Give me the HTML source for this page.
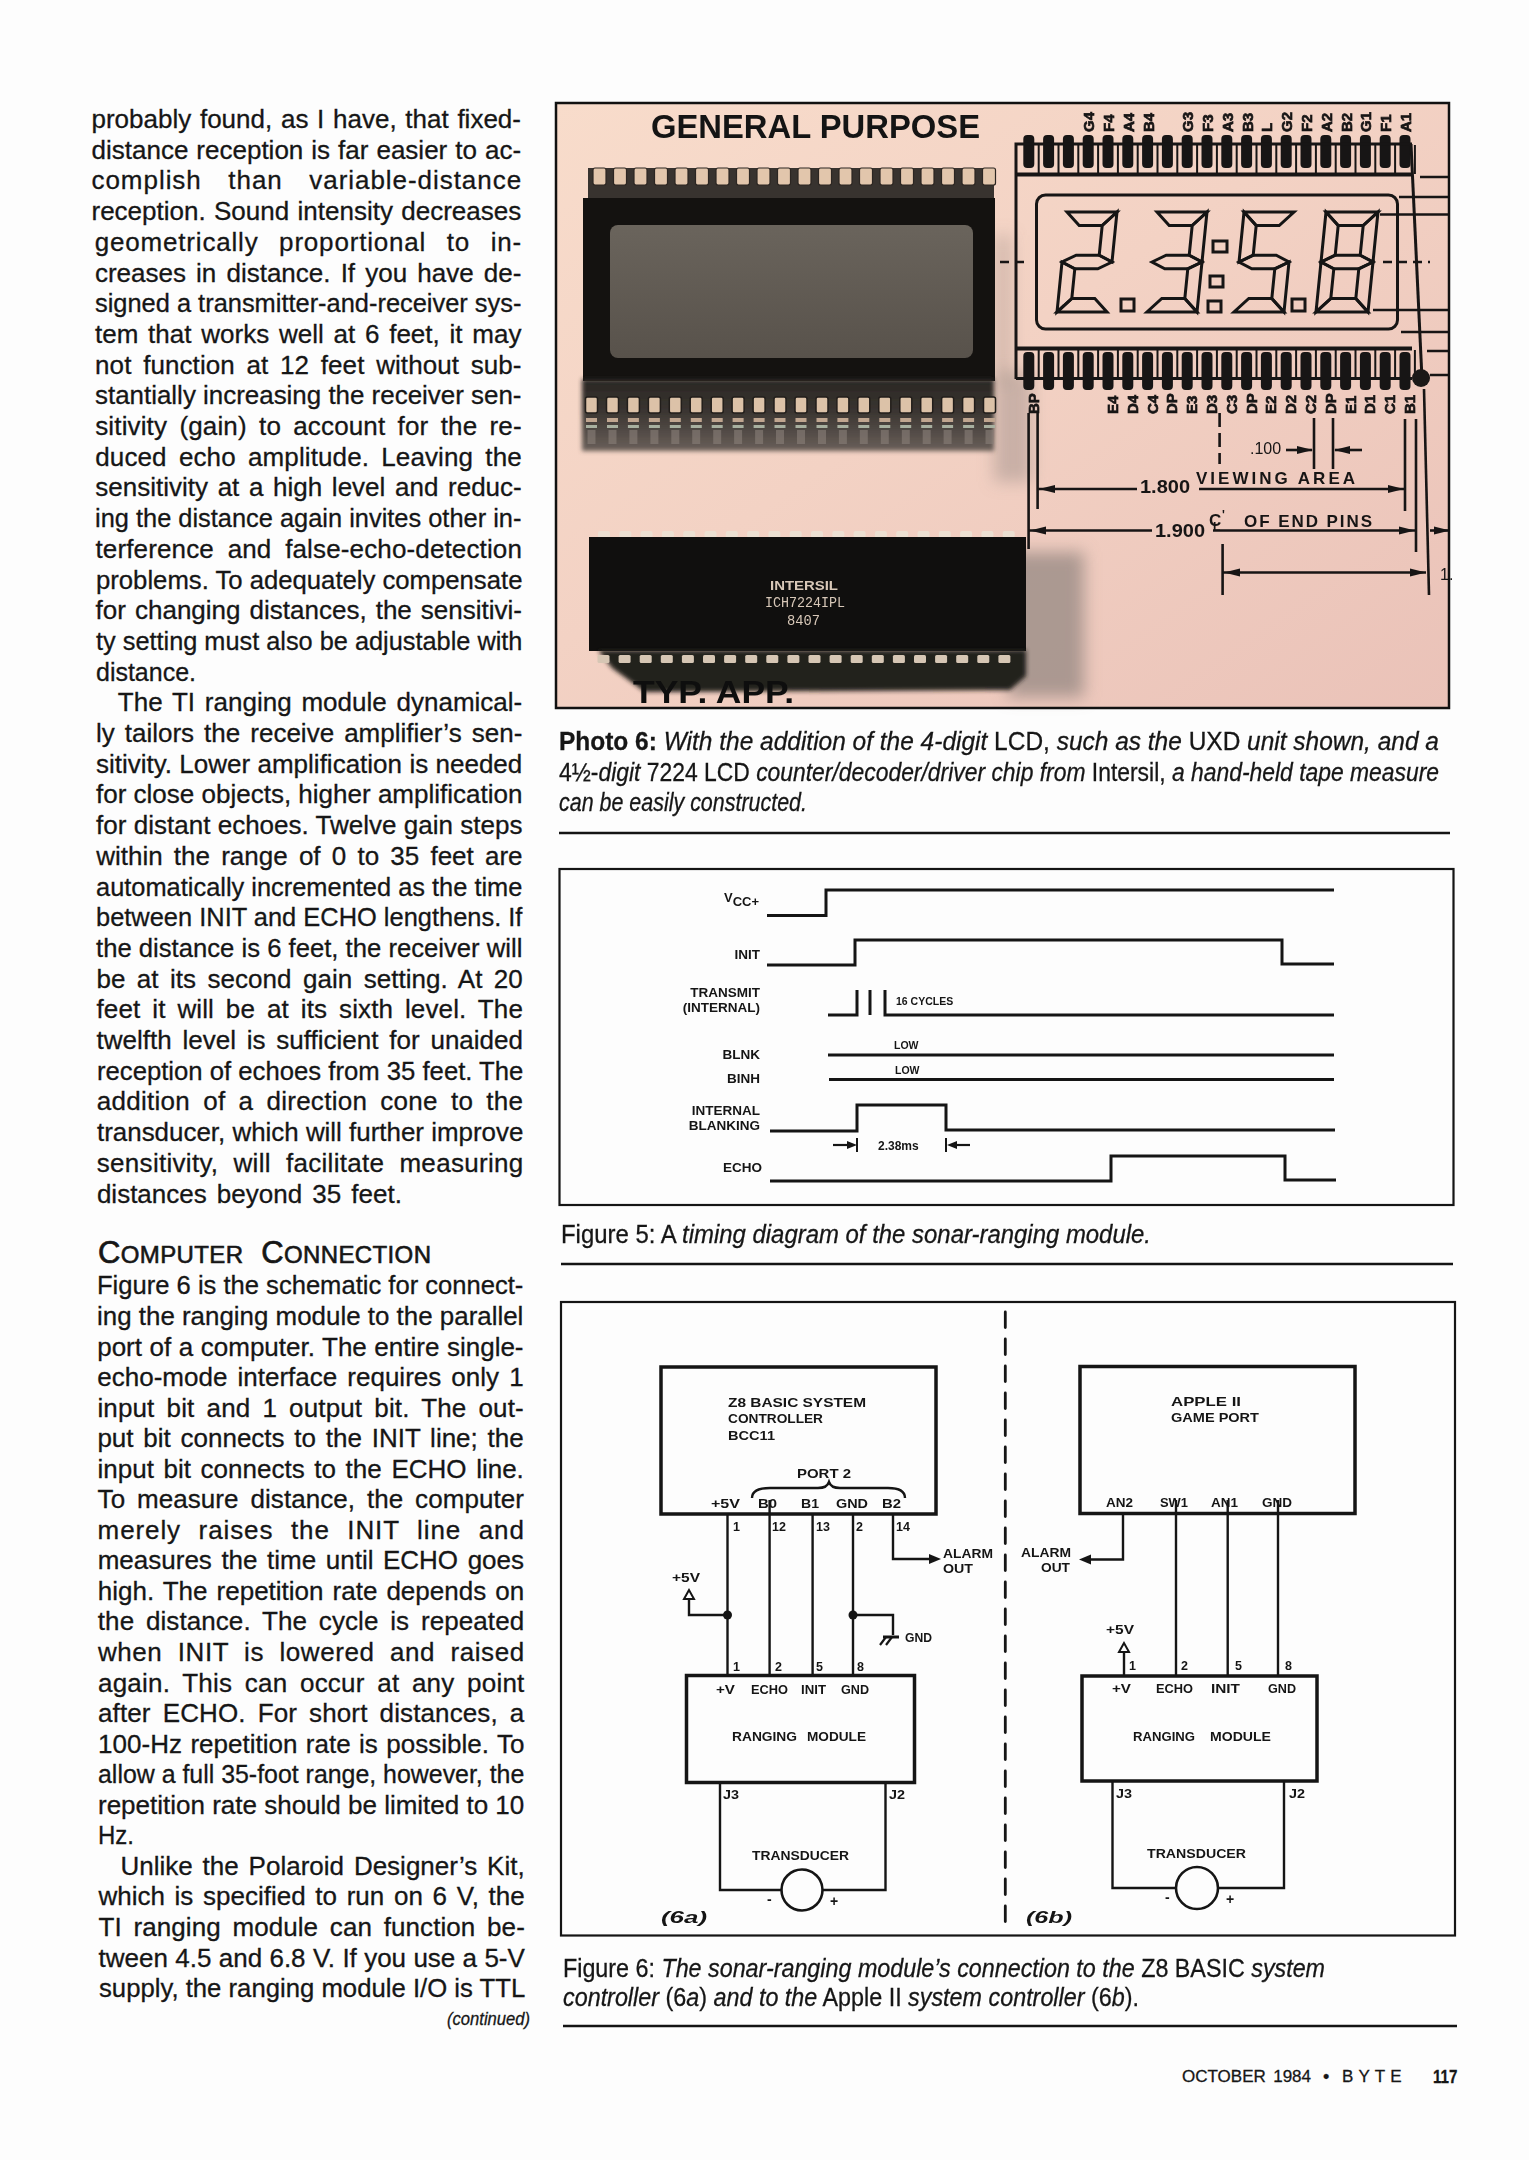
<!DOCTYPE html>
<html><head><meta charset="utf-8"><style>
html,body{margin:0;padding:0}
body{width:1529px;height:2160px;position:relative;overflow:hidden;background:#fdfdfd;font-family:"Liberation Sans",sans-serif;color:#161616}
.t{position:absolute;white-space:nowrap;line-height:0;height:0;transform-origin:0 0;-webkit-text-stroke:0.3px #161616}
svg{position:absolute;left:0;top:0}
</style></head><body>
<svg width="1529" height="2160" viewBox="0 0 1529 2160"><defs><linearGradient id="pbg" x1="0" y1="0" x2="1" y2="1"><stop offset="0" stop-color="#f8dccb"/><stop offset="0.45" stop-color="#f3d2c4"/><stop offset="1" stop-color="#eac2b8"/></linearGradient><linearGradient id="shad1" x1="0" y1="0" x2="0" y2="1"><stop offset="0" stop-color="#2a2724"/><stop offset="0.45" stop-color="#3a3531"/><stop offset="1" stop-color="#6a605a"/></linearGradient><linearGradient id="win" x1="0" y1="0" x2="0" y2="1"><stop offset="0" stop-color="#6a645c"/><stop offset="1" stop-color="#58524b"/></linearGradient><filter id="blur4" x="-50%" y="-50%" width="200%" height="200%"><feGaussianBlur stdDeviation="8"/></filter><filter id="blur2" x="-20%" y="-20%" width="140%" height="140%"><feGaussianBlur stdDeviation="2"/></filter></defs><rect x="555" y="102" width="895" height="607" fill="url(#pbg)"/><g filter="url(#blur4)"><rect x="1008" y="552" width="76" height="145" fill="#9a8c86" opacity="0.8"/><rect x="994" y="372" width="38" height="110" fill="#a89890" opacity="0.55"/><rect x="994" y="235" width="18" height="150" fill="#9a8c84" opacity="0.35"/></g><rect x="588" y="168" width="406" height="31" fill="#38332f"/><rect x="593.0" y="168" width="13" height="17" rx="2" fill="#e2c6ac" stroke="#2c2622" stroke-width="1.2"/><rect x="613.5" y="168" width="13" height="17" rx="2" fill="#e2c6ac" stroke="#2c2622" stroke-width="1.2"/><rect x="634.0" y="168" width="13" height="17" rx="2" fill="#e2c6ac" stroke="#2c2622" stroke-width="1.2"/><rect x="654.5" y="168" width="13" height="17" rx="2" fill="#e2c6ac" stroke="#2c2622" stroke-width="1.2"/><rect x="675.0" y="168" width="13" height="17" rx="2" fill="#e2c6ac" stroke="#2c2622" stroke-width="1.2"/><rect x="695.5" y="168" width="13" height="17" rx="2" fill="#e2c6ac" stroke="#2c2622" stroke-width="1.2"/><rect x="716.0" y="168" width="13" height="17" rx="2" fill="#e2c6ac" stroke="#2c2622" stroke-width="1.2"/><rect x="736.5" y="168" width="13" height="17" rx="2" fill="#e2c6ac" stroke="#2c2622" stroke-width="1.2"/><rect x="757.0" y="168" width="13" height="17" rx="2" fill="#e2c6ac" stroke="#2c2622" stroke-width="1.2"/><rect x="777.5" y="168" width="13" height="17" rx="2" fill="#e2c6ac" stroke="#2c2622" stroke-width="1.2"/><rect x="798.0" y="168" width="13" height="17" rx="2" fill="#e2c6ac" stroke="#2c2622" stroke-width="1.2"/><rect x="818.5" y="168" width="13" height="17" rx="2" fill="#e2c6ac" stroke="#2c2622" stroke-width="1.2"/><rect x="839.0" y="168" width="13" height="17" rx="2" fill="#e2c6ac" stroke="#2c2622" stroke-width="1.2"/><rect x="859.5" y="168" width="13" height="17" rx="2" fill="#e2c6ac" stroke="#2c2622" stroke-width="1.2"/><rect x="880.0" y="168" width="13" height="17" rx="2" fill="#e2c6ac" stroke="#2c2622" stroke-width="1.2"/><rect x="900.5" y="168" width="13" height="17" rx="2" fill="#e2c6ac" stroke="#2c2622" stroke-width="1.2"/><rect x="921.0" y="168" width="13" height="17" rx="2" fill="#e2c6ac" stroke="#2c2622" stroke-width="1.2"/><rect x="941.5" y="168" width="13" height="17" rx="2" fill="#e2c6ac" stroke="#2c2622" stroke-width="1.2"/><rect x="962.0" y="168" width="13" height="17" rx="2" fill="#e2c6ac" stroke="#2c2622" stroke-width="1.2"/><rect x="982.5" y="168" width="13" height="17" rx="2" fill="#e2c6ac" stroke="#2c2622" stroke-width="1.2"/><rect x="583" y="198" width="412" height="183" fill="#141210"/><rect x="610" y="225" width="363" height="133" rx="8" fill="url(#win)"/><g filter="url(#blur2)"><rect x="582" y="379" width="412" height="72" fill="url(#shad1)"/></g><rect x="585.5" y="397" width="12" height="16" rx="2" fill="#dcc2a8" stroke="#221e1b" stroke-width="1.5"/><rect x="586.0" y="418" width="11" height="4" fill="#c0a690"/><rect x="586.0" y="425" width="11" height="3" fill="#a8b0a0"/><rect x="587.5" y="430" width="8" height="14" fill="#8a807a" opacity="0.6"/><rect x="606.5" y="397" width="12" height="16" rx="2" fill="#dcc2a8" stroke="#221e1b" stroke-width="1.5"/><rect x="607.0" y="418" width="11" height="4" fill="#c0a690"/><rect x="607.0" y="425" width="11" height="3" fill="#a8b0a0"/><rect x="608.5" y="430" width="8" height="14" fill="#8a807a" opacity="0.6"/><rect x="627.4" y="397" width="12" height="16" rx="2" fill="#dcc2a8" stroke="#221e1b" stroke-width="1.5"/><rect x="627.9" y="418" width="11" height="4" fill="#c0a690"/><rect x="627.9" y="425" width="11" height="3" fill="#a8b0a0"/><rect x="629.4" y="430" width="8" height="14" fill="#8a807a" opacity="0.6"/><rect x="648.4" y="397" width="12" height="16" rx="2" fill="#dcc2a8" stroke="#221e1b" stroke-width="1.5"/><rect x="648.9" y="418" width="11" height="4" fill="#c0a690"/><rect x="648.9" y="425" width="11" height="3" fill="#a8b0a0"/><rect x="650.4" y="430" width="8" height="14" fill="#8a807a" opacity="0.6"/><rect x="669.3" y="397" width="12" height="16" rx="2" fill="#dcc2a8" stroke="#221e1b" stroke-width="1.5"/><rect x="669.8" y="418" width="11" height="4" fill="#c0a690"/><rect x="669.8" y="425" width="11" height="3" fill="#a8b0a0"/><rect x="671.3" y="430" width="8" height="14" fill="#8a807a" opacity="0.6"/><rect x="690.2" y="397" width="12" height="16" rx="2" fill="#dcc2a8" stroke="#221e1b" stroke-width="1.5"/><rect x="690.8" y="418" width="11" height="4" fill="#c0a690"/><rect x="690.8" y="425" width="11" height="3" fill="#a8b0a0"/><rect x="692.2" y="430" width="8" height="14" fill="#8a807a" opacity="0.6"/><rect x="711.2" y="397" width="12" height="16" rx="2" fill="#dcc2a8" stroke="#221e1b" stroke-width="1.5"/><rect x="711.7" y="418" width="11" height="4" fill="#c0a690"/><rect x="711.7" y="425" width="11" height="3" fill="#a8b0a0"/><rect x="713.2" y="430" width="8" height="14" fill="#8a807a" opacity="0.6"/><rect x="732.1" y="397" width="12" height="16" rx="2" fill="#dcc2a8" stroke="#221e1b" stroke-width="1.5"/><rect x="732.6" y="418" width="11" height="4" fill="#c0a690"/><rect x="732.6" y="425" width="11" height="3" fill="#a8b0a0"/><rect x="734.1" y="430" width="8" height="14" fill="#8a807a" opacity="0.6"/><rect x="753.1" y="397" width="12" height="16" rx="2" fill="#dcc2a8" stroke="#221e1b" stroke-width="1.5"/><rect x="753.6" y="418" width="11" height="4" fill="#c0a690"/><rect x="753.6" y="425" width="11" height="3" fill="#a8b0a0"/><rect x="755.1" y="430" width="8" height="14" fill="#8a807a" opacity="0.6"/><rect x="774.0" y="397" width="12" height="16" rx="2" fill="#dcc2a8" stroke="#221e1b" stroke-width="1.5"/><rect x="774.5" y="418" width="11" height="4" fill="#c0a690"/><rect x="774.5" y="425" width="11" height="3" fill="#a8b0a0"/><rect x="776.0" y="430" width="8" height="14" fill="#8a807a" opacity="0.6"/><rect x="795.0" y="397" width="12" height="16" rx="2" fill="#dcc2a8" stroke="#221e1b" stroke-width="1.5"/><rect x="795.5" y="418" width="11" height="4" fill="#c0a690"/><rect x="795.5" y="425" width="11" height="3" fill="#a8b0a0"/><rect x="797.0" y="430" width="8" height="14" fill="#8a807a" opacity="0.6"/><rect x="816.0" y="397" width="12" height="16" rx="2" fill="#dcc2a8" stroke="#221e1b" stroke-width="1.5"/><rect x="816.5" y="418" width="11" height="4" fill="#c0a690"/><rect x="816.5" y="425" width="11" height="3" fill="#a8b0a0"/><rect x="818.0" y="430" width="8" height="14" fill="#8a807a" opacity="0.6"/><rect x="836.9" y="397" width="12" height="16" rx="2" fill="#dcc2a8" stroke="#221e1b" stroke-width="1.5"/><rect x="837.4" y="418" width="11" height="4" fill="#c0a690"/><rect x="837.4" y="425" width="11" height="3" fill="#a8b0a0"/><rect x="838.9" y="430" width="8" height="14" fill="#8a807a" opacity="0.6"/><rect x="857.8" y="397" width="12" height="16" rx="2" fill="#dcc2a8" stroke="#221e1b" stroke-width="1.5"/><rect x="858.3" y="418" width="11" height="4" fill="#c0a690"/><rect x="858.3" y="425" width="11" height="3" fill="#a8b0a0"/><rect x="859.8" y="430" width="8" height="14" fill="#8a807a" opacity="0.6"/><rect x="878.8" y="397" width="12" height="16" rx="2" fill="#dcc2a8" stroke="#221e1b" stroke-width="1.5"/><rect x="879.3" y="418" width="11" height="4" fill="#c0a690"/><rect x="879.3" y="425" width="11" height="3" fill="#a8b0a0"/><rect x="880.8" y="430" width="8" height="14" fill="#8a807a" opacity="0.6"/><rect x="899.8" y="397" width="12" height="16" rx="2" fill="#dcc2a8" stroke="#221e1b" stroke-width="1.5"/><rect x="900.2" y="418" width="11" height="4" fill="#c0a690"/><rect x="900.2" y="425" width="11" height="3" fill="#a8b0a0"/><rect x="901.8" y="430" width="8" height="14" fill="#8a807a" opacity="0.6"/><rect x="920.7" y="397" width="12" height="16" rx="2" fill="#dcc2a8" stroke="#221e1b" stroke-width="1.5"/><rect x="921.2" y="418" width="11" height="4" fill="#c0a690"/><rect x="921.2" y="425" width="11" height="3" fill="#a8b0a0"/><rect x="922.7" y="430" width="8" height="14" fill="#8a807a" opacity="0.6"/><rect x="941.6" y="397" width="12" height="16" rx="2" fill="#dcc2a8" stroke="#221e1b" stroke-width="1.5"/><rect x="942.1" y="418" width="11" height="4" fill="#c0a690"/><rect x="942.1" y="425" width="11" height="3" fill="#a8b0a0"/><rect x="943.6" y="430" width="8" height="14" fill="#8a807a" opacity="0.6"/><rect x="962.6" y="397" width="12" height="16" rx="2" fill="#dcc2a8" stroke="#221e1b" stroke-width="1.5"/><rect x="963.1" y="418" width="11" height="4" fill="#c0a690"/><rect x="963.1" y="425" width="11" height="3" fill="#a8b0a0"/><rect x="964.6" y="430" width="8" height="14" fill="#8a807a" opacity="0.6"/><rect x="983.5" y="397" width="12" height="16" rx="2" fill="#dcc2a8" stroke="#221e1b" stroke-width="1.5"/><rect x="984.0" y="418" width="11" height="4" fill="#c0a690"/><rect x="984.0" y="425" width="11" height="3" fill="#a8b0a0"/><rect x="985.5" y="430" width="8" height="14" fill="#8a807a" opacity="0.6"/><rect x="598.0" y="531" width="12" height="7" rx="2" fill="#ece0d2"/><rect x="619.3" y="531" width="12" height="7" rx="2" fill="#ece0d2"/><rect x="640.6" y="531" width="12" height="7" rx="2" fill="#ece0d2"/><rect x="661.9" y="531" width="12" height="7" rx="2" fill="#ece0d2"/><rect x="683.2" y="531" width="12" height="7" rx="2" fill="#ece0d2"/><rect x="704.5" y="531" width="12" height="7" rx="2" fill="#ece0d2"/><rect x="725.8" y="531" width="12" height="7" rx="2" fill="#ece0d2"/><rect x="747.1" y="531" width="12" height="7" rx="2" fill="#ece0d2"/><rect x="768.4" y="531" width="12" height="7" rx="2" fill="#ece0d2"/><rect x="789.7" y="531" width="12" height="7" rx="2" fill="#ece0d2"/><rect x="811.0" y="531" width="12" height="7" rx="2" fill="#ece0d2"/><rect x="832.3" y="531" width="12" height="7" rx="2" fill="#ece0d2"/><rect x="853.6" y="531" width="12" height="7" rx="2" fill="#ece0d2"/><rect x="874.9" y="531" width="12" height="7" rx="2" fill="#ece0d2"/><rect x="896.2" y="531" width="12" height="7" rx="2" fill="#ece0d2"/><rect x="917.5" y="531" width="12" height="7" rx="2" fill="#ece0d2"/><rect x="938.8" y="531" width="12" height="7" rx="2" fill="#ece0d2"/><rect x="960.1" y="531" width="12" height="7" rx="2" fill="#ece0d2"/><rect x="981.4" y="531" width="12" height="7" rx="2" fill="#ece0d2"/><rect x="1002.7" y="531" width="12" height="7" rx="2" fill="#ece0d2"/><rect x="589" y="537" width="437" height="114" fill="#100f0e"/><g filter="url(#blur2)"><polygon points="598,650 1026,650 1026,676 1010,690 645,692 612,668" fill="#23201e"/></g><rect x="597.5" y="655" width="12" height="8" rx="1.5" fill="#d6c6b4"/><rect x="618.6" y="655" width="12" height="8" rx="1.5" fill="#d6c6b4"/><rect x="639.7" y="655" width="12" height="8" rx="1.5" fill="#d6c6b4"/><rect x="660.8" y="655" width="12" height="8" rx="1.5" fill="#d6c6b4"/><rect x="681.9" y="655" width="12" height="8" rx="1.5" fill="#d6c6b4"/><rect x="703.0" y="655" width="12" height="8" rx="1.5" fill="#d6c6b4"/><rect x="724.1" y="655" width="12" height="8" rx="1.5" fill="#d6c6b4"/><rect x="745.2" y="655" width="12" height="8" rx="1.5" fill="#d6c6b4"/><rect x="766.3" y="655" width="12" height="8" rx="1.5" fill="#d6c6b4"/><rect x="787.4" y="655" width="12" height="8" rx="1.5" fill="#d6c6b4"/><rect x="808.5" y="655" width="12" height="8" rx="1.5" fill="#d6c6b4"/><rect x="829.6" y="655" width="12" height="8" rx="1.5" fill="#d6c6b4"/><rect x="850.7" y="655" width="12" height="8" rx="1.5" fill="#d6c6b4"/><rect x="871.8" y="655" width="12" height="8" rx="1.5" fill="#d6c6b4"/><rect x="892.9" y="655" width="12" height="8" rx="1.5" fill="#d6c6b4"/><rect x="914.0" y="655" width="12" height="8" rx="1.5" fill="#d6c6b4"/><rect x="935.1" y="655" width="12" height="8" rx="1.5" fill="#d6c6b4"/><rect x="956.2" y="655" width="12" height="8" rx="1.5" fill="#d6c6b4"/><rect x="977.3" y="655" width="12" height="8" rx="1.5" fill="#d6c6b4"/><rect x="998.4" y="655" width="12" height="8" rx="1.5" fill="#d6c6b4"/><text x="770" y="590" font-family="Liberation Sans" font-weight="bold" font-size="13" fill="#d8c8b8" textLength="68" lengthAdjust="spacingAndGlyphs">INTERSIL</text><text x="765" y="607" font-family="Liberation Mono" font-size="14" fill="#d8c8b8" textLength="80" lengthAdjust="spacingAndGlyphs">ICH7224IPL</text><text x="787" y="625" font-family="Liberation Mono" font-size="14" fill="#d8c8b8" textLength="33" lengthAdjust="spacingAndGlyphs">8407</text><text x="633" y="702.5" font-family="Liberation Sans" font-weight="bold" font-size="31" fill="#0e0e0e" textLength="161" lengthAdjust="spacingAndGlyphs">TYP. APP.</text><text x="651" y="138.3" font-family="Liberation Sans" font-weight="bold" font-size="33" fill="#141414" textLength="329" lengthAdjust="spacingAndGlyphs">GENERAL PURPOSE</text><rect x="1023.3" y="135" width="11" height="33" rx="4" fill="#171515"/><line x1="1038.7" y1="145" x2="1038.7" y2="174" stroke="#171515" stroke-width="2"/><rect x="1043.1" y="135" width="11" height="33" rx="4" fill="#171515"/><line x1="1058.5" y1="145" x2="1058.5" y2="174" stroke="#171515" stroke-width="2"/><rect x="1062.9" y="135" width="11" height="33" rx="4" fill="#171515"/><line x1="1078.3" y1="145" x2="1078.3" y2="174" stroke="#171515" stroke-width="2"/><rect x="1082.7" y="135" width="11" height="33" rx="4" fill="#171515"/><line x1="1098.1" y1="145" x2="1098.1" y2="174" stroke="#171515" stroke-width="2"/><rect x="1102.5" y="135" width="11" height="33" rx="4" fill="#171515"/><line x1="1117.9" y1="145" x2="1117.9" y2="174" stroke="#171515" stroke-width="2"/><rect x="1122.3" y="135" width="11" height="33" rx="4" fill="#171515"/><line x1="1137.7" y1="145" x2="1137.7" y2="174" stroke="#171515" stroke-width="2"/><rect x="1142.1" y="135" width="11" height="33" rx="4" fill="#171515"/><line x1="1157.5" y1="145" x2="1157.5" y2="174" stroke="#171515" stroke-width="2"/><rect x="1161.9" y="135" width="11" height="33" rx="4" fill="#171515"/><line x1="1177.3" y1="145" x2="1177.3" y2="174" stroke="#171515" stroke-width="2"/><rect x="1181.7" y="135" width="11" height="33" rx="4" fill="#171515"/><line x1="1197.1" y1="145" x2="1197.1" y2="174" stroke="#171515" stroke-width="2"/><rect x="1201.5" y="135" width="11" height="33" rx="4" fill="#171515"/><line x1="1216.9" y1="145" x2="1216.9" y2="174" stroke="#171515" stroke-width="2"/><rect x="1221.3" y="135" width="11" height="33" rx="4" fill="#171515"/><line x1="1236.7" y1="145" x2="1236.7" y2="174" stroke="#171515" stroke-width="2"/><rect x="1241.1" y="135" width="11" height="33" rx="4" fill="#171515"/><line x1="1256.5" y1="145" x2="1256.5" y2="174" stroke="#171515" stroke-width="2"/><rect x="1260.9" y="135" width="11" height="33" rx="4" fill="#171515"/><line x1="1276.3" y1="145" x2="1276.3" y2="174" stroke="#171515" stroke-width="2"/><rect x="1280.7" y="135" width="11" height="33" rx="4" fill="#171515"/><line x1="1296.1" y1="145" x2="1296.1" y2="174" stroke="#171515" stroke-width="2"/><rect x="1300.5" y="135" width="11" height="33" rx="4" fill="#171515"/><line x1="1315.9" y1="145" x2="1315.9" y2="174" stroke="#171515" stroke-width="2"/><rect x="1320.3" y="135" width="11" height="33" rx="4" fill="#171515"/><line x1="1335.7" y1="145" x2="1335.7" y2="174" stroke="#171515" stroke-width="2"/><rect x="1340.1" y="135" width="11" height="33" rx="4" fill="#171515"/><line x1="1355.5" y1="145" x2="1355.5" y2="174" stroke="#171515" stroke-width="2"/><rect x="1359.9" y="135" width="11" height="33" rx="4" fill="#171515"/><line x1="1375.3" y1="145" x2="1375.3" y2="174" stroke="#171515" stroke-width="2"/><rect x="1379.7" y="135" width="11" height="33" rx="4" fill="#171515"/><line x1="1395.1" y1="145" x2="1395.1" y2="174" stroke="#171515" stroke-width="2"/><rect x="1399.5" y="135" width="11" height="33" rx="4" fill="#171515"/><line x1="1414.9" y1="145" x2="1414.9" y2="174" stroke="#171515" stroke-width="2"/><path d="M1016,379 V144 H1412" fill="none" stroke="#171515" stroke-width="3"/><line x1="1016" y1="174.5" x2="1412" y2="174.5" stroke="#171515" stroke-width="4"/><line x1="1016" y1="348.5" x2="1412" y2="348.5" stroke="#171515" stroke-width="4"/><line x1="1016" y1="378.5" x2="1412" y2="378.5" stroke="#171515" stroke-width="3"/><rect x="1023.3" y="352" width="11" height="38" rx="4" fill="#171515"/><line x1="1038.7" y1="350" x2="1038.7" y2="378" stroke="#171515" stroke-width="2"/><rect x="1043.1" y="352" width="11" height="38" rx="4" fill="#171515"/><line x1="1058.5" y1="350" x2="1058.5" y2="378" stroke="#171515" stroke-width="2"/><rect x="1062.9" y="352" width="11" height="38" rx="4" fill="#171515"/><line x1="1078.3" y1="350" x2="1078.3" y2="378" stroke="#171515" stroke-width="2"/><rect x="1082.7" y="352" width="11" height="38" rx="4" fill="#171515"/><line x1="1098.1" y1="350" x2="1098.1" y2="378" stroke="#171515" stroke-width="2"/><rect x="1102.5" y="352" width="11" height="38" rx="4" fill="#171515"/><line x1="1117.9" y1="350" x2="1117.9" y2="378" stroke="#171515" stroke-width="2"/><rect x="1122.3" y="352" width="11" height="38" rx="4" fill="#171515"/><line x1="1137.7" y1="350" x2="1137.7" y2="378" stroke="#171515" stroke-width="2"/><rect x="1142.1" y="352" width="11" height="38" rx="4" fill="#171515"/><line x1="1157.5" y1="350" x2="1157.5" y2="378" stroke="#171515" stroke-width="2"/><rect x="1161.9" y="352" width="11" height="38" rx="4" fill="#171515"/><line x1="1177.3" y1="350" x2="1177.3" y2="378" stroke="#171515" stroke-width="2"/><rect x="1181.7" y="352" width="11" height="38" rx="4" fill="#171515"/><line x1="1197.1" y1="350" x2="1197.1" y2="378" stroke="#171515" stroke-width="2"/><rect x="1201.5" y="352" width="11" height="38" rx="4" fill="#171515"/><line x1="1216.9" y1="350" x2="1216.9" y2="378" stroke="#171515" stroke-width="2"/><rect x="1221.3" y="352" width="11" height="38" rx="4" fill="#171515"/><line x1="1236.7" y1="350" x2="1236.7" y2="378" stroke="#171515" stroke-width="2"/><rect x="1241.1" y="352" width="11" height="38" rx="4" fill="#171515"/><line x1="1256.5" y1="350" x2="1256.5" y2="378" stroke="#171515" stroke-width="2"/><rect x="1260.9" y="352" width="11" height="38" rx="4" fill="#171515"/><line x1="1276.3" y1="350" x2="1276.3" y2="378" stroke="#171515" stroke-width="2"/><rect x="1280.7" y="352" width="11" height="38" rx="4" fill="#171515"/><line x1="1296.1" y1="350" x2="1296.1" y2="378" stroke="#171515" stroke-width="2"/><rect x="1300.5" y="352" width="11" height="38" rx="4" fill="#171515"/><line x1="1315.9" y1="350" x2="1315.9" y2="378" stroke="#171515" stroke-width="2"/><rect x="1320.3" y="352" width="11" height="38" rx="4" fill="#171515"/><line x1="1335.7" y1="350" x2="1335.7" y2="378" stroke="#171515" stroke-width="2"/><rect x="1340.1" y="352" width="11" height="38" rx="4" fill="#171515"/><line x1="1355.5" y1="350" x2="1355.5" y2="378" stroke="#171515" stroke-width="2"/><rect x="1359.9" y="352" width="11" height="38" rx="4" fill="#171515"/><line x1="1375.3" y1="350" x2="1375.3" y2="378" stroke="#171515" stroke-width="2"/><rect x="1379.7" y="352" width="11" height="38" rx="4" fill="#171515"/><line x1="1395.1" y1="350" x2="1395.1" y2="378" stroke="#171515" stroke-width="2"/><rect x="1399.5" y="352" width="11" height="38" rx="4" fill="#171515"/><line x1="1414.9" y1="350" x2="1414.9" y2="378" stroke="#171515" stroke-width="2"/><rect x="1036.5" y="195" width="361" height="134" rx="9" fill="none" stroke="#171515" stroke-width="3"/><polygon points="1067.0,212.0 1117.0,212.0 1102.2,225.5 1079.2,225.5" fill="none" stroke="#151515" stroke-width="3" stroke-linejoin="miter"/><polygon points="1117.0,212.0 1102.2,225.5 1099.2,255.2 1112.0,262.0" fill="none" stroke="#151515" stroke-width="3" stroke-linejoin="miter"/><polygon points="1062.0,262.0 1076.2,255.2 1099.2,255.2 1112.0,262.0 1097.8,268.8 1074.8,268.8" fill="none" stroke="#151515" stroke-width="3" stroke-linejoin="miter"/><polygon points="1062.0,262.0 1074.8,268.8 1071.8,298.5 1057.0,312.0" fill="none" stroke="#151515" stroke-width="3" stroke-linejoin="miter"/><polygon points="1057.0,312.0 1107.0,312.0 1094.8,298.5 1071.8,298.5" fill="none" stroke="#151515" stroke-width="3" stroke-linejoin="miter"/><polygon points="1157.0,212.0 1207.0,212.0 1192.2,225.5 1169.2,225.5" fill="none" stroke="#151515" stroke-width="3" stroke-linejoin="miter"/><polygon points="1207.0,212.0 1192.2,225.5 1189.2,255.2 1202.0,262.0" fill="none" stroke="#151515" stroke-width="3" stroke-linejoin="miter"/><polygon points="1152.0,262.0 1166.2,255.2 1189.2,255.2 1202.0,262.0 1187.8,268.8 1164.8,268.8" fill="none" stroke="#151515" stroke-width="3" stroke-linejoin="miter"/><polygon points="1202.0,262.0 1187.8,268.8 1184.8,298.5 1197.0,312.0" fill="none" stroke="#151515" stroke-width="3" stroke-linejoin="miter"/><polygon points="1147.0,312.0 1197.0,312.0 1184.8,298.5 1161.8,298.5" fill="none" stroke="#151515" stroke-width="3" stroke-linejoin="miter"/><polygon points="1244.0,212.0 1294.0,212.0 1279.2,225.5 1256.2,225.5" fill="none" stroke="#151515" stroke-width="3" stroke-linejoin="miter"/><polygon points="1244.0,212.0 1256.2,225.5 1253.2,255.2 1239.0,262.0" fill="none" stroke="#151515" stroke-width="3" stroke-linejoin="miter"/><polygon points="1239.0,262.0 1253.2,255.2 1276.2,255.2 1289.0,262.0 1274.8,268.8 1251.8,268.8" fill="none" stroke="#151515" stroke-width="3" stroke-linejoin="miter"/><polygon points="1289.0,262.0 1274.8,268.8 1271.8,298.5 1284.0,312.0" fill="none" stroke="#151515" stroke-width="3" stroke-linejoin="miter"/><polygon points="1234.0,312.0 1284.0,312.0 1271.8,298.5 1248.8,298.5" fill="none" stroke="#151515" stroke-width="3" stroke-linejoin="miter"/><polygon points="1326.0,212.0 1378.0,212.0 1363.2,225.5 1338.2,225.5" fill="none" stroke="#151515" stroke-width="3" stroke-linejoin="miter"/><polygon points="1378.0,212.0 1363.2,225.5 1360.2,255.2 1373.0,262.0" fill="none" stroke="#151515" stroke-width="3" stroke-linejoin="miter"/><polygon points="1373.0,262.0 1358.8,268.8 1355.8,298.5 1368.0,312.0" fill="none" stroke="#151515" stroke-width="3" stroke-linejoin="miter"/><polygon points="1316.0,312.0 1368.0,312.0 1355.8,298.5 1330.8,298.5" fill="none" stroke="#151515" stroke-width="3" stroke-linejoin="miter"/><polygon points="1321.0,262.0 1333.8,268.8 1330.8,298.5 1316.0,312.0" fill="none" stroke="#151515" stroke-width="3" stroke-linejoin="miter"/><polygon points="1326.0,212.0 1338.2,225.5 1335.2,255.2 1321.0,262.0" fill="none" stroke="#151515" stroke-width="3" stroke-linejoin="miter"/><polygon points="1321.0,262.0 1335.2,255.2 1360.2,255.2 1373.0,262.0 1358.8,268.8 1333.8,268.8" fill="none" stroke="#151515" stroke-width="3" stroke-linejoin="miter"/><rect x="1121" y="299" width="13" height="12" fill="none" stroke="#171515" stroke-width="3"/><rect x="1292" y="299" width="13" height="12" fill="none" stroke="#171515" stroke-width="3"/><rect x="1213" y="241" width="14" height="11" fill="none" stroke="#171515" stroke-width="3"/><rect x="1210" y="276" width="13" height="11" fill="none" stroke="#171515" stroke-width="3"/><rect x="1208" y="301" width="13" height="11" fill="none" stroke="#171515" stroke-width="3"/><line x1="1000" y1="262" x2="1030" y2="262" stroke="#171515" stroke-width="2.5" stroke-dasharray="9,6"/><line x1="1383" y1="262" x2="1430" y2="262" stroke="#171515" stroke-width="2.5" stroke-dasharray="9,6"/><line x1="1420" y1="177" x2="1450" y2="177" stroke="#171515" stroke-width="2.5"/><line x1="1399" y1="197" x2="1450" y2="197" stroke="#171515" stroke-width="2.5"/><line x1="1380" y1="214.5" x2="1450" y2="214.5" stroke="#171515" stroke-width="2.5"/><line x1="1373" y1="310" x2="1450" y2="310" stroke="#171515" stroke-width="2.5"/><line x1="1401" y1="332" x2="1450" y2="332" stroke="#171515" stroke-width="2.5"/><line x1="1427" y1="351" x2="1450" y2="351" stroke="#171515" stroke-width="2.5"/><line x1="1430" y1="375" x2="1450" y2="375" stroke="#171515" stroke-width="2.5"/><line x1="1411" y1="144" x2="1422" y2="379" stroke="#171515" stroke-width="3"/><circle cx="1421" cy="378" r="9" fill="#1b1817"/><text transform="translate(1094.2,132) rotate(-90)" font-family="Liberation Sans" font-weight="bold" font-size="15" fill="#171515" stroke="#171515" stroke-width="0.7">G4</text><text transform="translate(1114.0,132) rotate(-90)" font-family="Liberation Sans" font-weight="bold" font-size="15" fill="#171515" stroke="#171515" stroke-width="0.7">F4</text><text transform="translate(1133.8,132) rotate(-90)" font-family="Liberation Sans" font-weight="bold" font-size="15" fill="#171515" stroke="#171515" stroke-width="0.7">A4</text><text transform="translate(1153.6,132) rotate(-90)" font-family="Liberation Sans" font-weight="bold" font-size="15" fill="#171515" stroke="#171515" stroke-width="0.7">B4</text><text transform="translate(1193.2,132) rotate(-90)" font-family="Liberation Sans" font-weight="bold" font-size="15" fill="#171515" stroke="#171515" stroke-width="0.7">G3</text><text transform="translate(1213.0,132) rotate(-90)" font-family="Liberation Sans" font-weight="bold" font-size="15" fill="#171515" stroke="#171515" stroke-width="0.7">F3</text><text transform="translate(1232.8,132) rotate(-90)" font-family="Liberation Sans" font-weight="bold" font-size="15" fill="#171515" stroke="#171515" stroke-width="0.7">A3</text><text transform="translate(1252.6,132) rotate(-90)" font-family="Liberation Sans" font-weight="bold" font-size="15" fill="#171515" stroke="#171515" stroke-width="0.7">B3</text><text transform="translate(1272.4,132) rotate(-90)" font-family="Liberation Sans" font-weight="bold" font-size="15" fill="#171515" stroke="#171515" stroke-width="0.7">L</text><text transform="translate(1292.2,132) rotate(-90)" font-family="Liberation Sans" font-weight="bold" font-size="15" fill="#171515" stroke="#171515" stroke-width="0.7">G2</text><text transform="translate(1312.0,132) rotate(-90)" font-family="Liberation Sans" font-weight="bold" font-size="15" fill="#171515" stroke="#171515" stroke-width="0.7">F2</text><text transform="translate(1331.8,132) rotate(-90)" font-family="Liberation Sans" font-weight="bold" font-size="15" fill="#171515" stroke="#171515" stroke-width="0.7">A2</text><text transform="translate(1351.6,132) rotate(-90)" font-family="Liberation Sans" font-weight="bold" font-size="15" fill="#171515" stroke="#171515" stroke-width="0.7">B2</text><text transform="translate(1371.4,132) rotate(-90)" font-family="Liberation Sans" font-weight="bold" font-size="15" fill="#171515" stroke="#171515" stroke-width="0.7">G1</text><text transform="translate(1391.2,132) rotate(-90)" font-family="Liberation Sans" font-weight="bold" font-size="15" fill="#171515" stroke="#171515" stroke-width="0.7">F1</text><text transform="translate(1411.0,132) rotate(-90)" font-family="Liberation Sans" font-weight="bold" font-size="15" fill="#171515" stroke="#171515" stroke-width="0.7">A1</text><text transform="translate(1038.8,414) rotate(-90)" font-family="Liberation Sans" font-weight="bold" font-size="15" fill="#171515" stroke="#171515" stroke-width="0.7">BP</text><text transform="translate(1118.0,414) rotate(-90)" font-family="Liberation Sans" font-weight="bold" font-size="15" fill="#171515" stroke="#171515" stroke-width="0.7">E4</text><text transform="translate(1137.8,414) rotate(-90)" font-family="Liberation Sans" font-weight="bold" font-size="15" fill="#171515" stroke="#171515" stroke-width="0.7">D4</text><text transform="translate(1157.6,414) rotate(-90)" font-family="Liberation Sans" font-weight="bold" font-size="15" fill="#171515" stroke="#171515" stroke-width="0.7">C4</text><text transform="translate(1177.4,414) rotate(-90)" font-family="Liberation Sans" font-weight="bold" font-size="15" fill="#171515" stroke="#171515" stroke-width="0.7">DP</text><text transform="translate(1197.2,414) rotate(-90)" font-family="Liberation Sans" font-weight="bold" font-size="15" fill="#171515" stroke="#171515" stroke-width="0.7">E3</text><text transform="translate(1217.0,414) rotate(-90)" font-family="Liberation Sans" font-weight="bold" font-size="15" fill="#171515" stroke="#171515" stroke-width="0.7">D3</text><text transform="translate(1236.8,414) rotate(-90)" font-family="Liberation Sans" font-weight="bold" font-size="15" fill="#171515" stroke="#171515" stroke-width="0.7">C3</text><text transform="translate(1256.6,414) rotate(-90)" font-family="Liberation Sans" font-weight="bold" font-size="15" fill="#171515" stroke="#171515" stroke-width="0.7">DP</text><text transform="translate(1276.4,414) rotate(-90)" font-family="Liberation Sans" font-weight="bold" font-size="15" fill="#171515" stroke="#171515" stroke-width="0.7">E2</text><text transform="translate(1296.2,414) rotate(-90)" font-family="Liberation Sans" font-weight="bold" font-size="15" fill="#171515" stroke="#171515" stroke-width="0.7">D2</text><text transform="translate(1316.0,414) rotate(-90)" font-family="Liberation Sans" font-weight="bold" font-size="15" fill="#171515" stroke="#171515" stroke-width="0.7">C2</text><text transform="translate(1335.8,414) rotate(-90)" font-family="Liberation Sans" font-weight="bold" font-size="15" fill="#171515" stroke="#171515" stroke-width="0.7">DP</text><text transform="translate(1355.6,414) rotate(-90)" font-family="Liberation Sans" font-weight="bold" font-size="15" fill="#171515" stroke="#171515" stroke-width="0.7">E1</text><text transform="translate(1375.4,414) rotate(-90)" font-family="Liberation Sans" font-weight="bold" font-size="15" fill="#171515" stroke="#171515" stroke-width="0.7">D1</text><text transform="translate(1395.2,414) rotate(-90)" font-family="Liberation Sans" font-weight="bold" font-size="15" fill="#171515" stroke="#171515" stroke-width="0.7">C1</text><text transform="translate(1415.0,414) rotate(-90)" font-family="Liberation Sans" font-weight="bold" font-size="15" fill="#171515" stroke="#171515" stroke-width="0.7">B1</text><line x1="1028.6" y1="413" x2="1028.6" y2="549" stroke="#171515" stroke-width="2.6"/><line x1="1037.6" y1="413" x2="1037.6" y2="509" stroke="#171515" stroke-width="2.6"/><line x1="1219.6" y1="413" x2="1219.6" y2="464" stroke="#171515" stroke-width="2.6" stroke-dasharray="14,6"/><line x1="1222.6" y1="544" x2="1222.6" y2="595" stroke="#171515" stroke-width="2.6"/><line x1="1314" y1="418" x2="1314" y2="469" stroke="#171515" stroke-width="2.6"/><line x1="1333" y1="418" x2="1333" y2="469" stroke="#171515" stroke-width="2.6"/><line x1="1405" y1="419" x2="1405" y2="511" stroke="#171515" stroke-width="2.6"/><line x1="1416" y1="419" x2="1416" y2="552" stroke="#171515" stroke-width="2.6"/><line x1="1424" y1="389" x2="1429" y2="595" stroke="#171515" stroke-width="2.6"/><text x="1250" y="454" font-family="Liberation Sans" font-size="16" fill="#171515">.100</text><line x1="1286" y1="450" x2="1286" y2="450" stroke="#171515" stroke-width="2.6"/><line x1="1286" y1="450" x2="1312" y2="450" stroke="#171515" stroke-width="2.6"/><polygon points="1313,450 1297,446 1297,454" fill="#171515"/><line x1="1335" y1="450" x2="1362" y2="450" stroke="#171515" stroke-width="2.6"/><polygon points="1334,450 1350,446 1350,454" fill="#171515"/><line x1="1038" y1="489" x2="1137" y2="489" stroke="#171515" stroke-width="2.6"/><polygon points="1039,489 1055,485 1055,493" fill="#171515"/><line x1="1199" y1="489" x2="1404" y2="489" stroke="#171515" stroke-width="2.6"/><polygon points="1404,489 1388,485 1388,493" fill="#171515"/><text x="1140" y="493" font-family="Liberation Sans" font-size="18" font-weight="bold" fill="#171515" textLength="50" lengthAdjust="spacingAndGlyphs">1.800</text><text x="1196" y="484" font-family="Liberation Sans" font-weight="bold" font-size="17" fill="#171515" textLength="159" lengthAdjust="spacing">VIEWING  AREA</text><line x1="1029" y1="530.5" x2="1152" y2="530.5" stroke="#171515" stroke-width="2.6"/><polygon points="1030,530.5 1046,526.5 1046,534.5" fill="#171515"/><line x1="1213" y1="530.5" x2="1415" y2="530.5" stroke="#171515" stroke-width="2.6"/><polygon points="1415,530.5 1399,526.5 1399,534.5" fill="#171515"/><line x1="1430" y1="530.5" x2="1450" y2="530.5" stroke="#171515" stroke-width="2.6"/><polygon points="1450,530.5 1434,526.5 1434,534.5" fill="#171515"/><text x="1155" y="537" font-family="Liberation Sans" font-size="18" font-weight="bold" fill="#171515" textLength="50" lengthAdjust="spacingAndGlyphs">1.900</text><text x="1209" y="526" font-family="Liberation Sans" font-weight="bold" font-size="17" fill="#171515">C</text><text x="1213" y="531" font-family="Liberation Sans" font-weight="bold" font-size="12" fill="#171515">L</text><text x="1222" y="519" font-family="Liberation Sans" font-weight="bold" font-size="12" fill="#171515">'</text><text x="1244" y="527" font-family="Liberation Sans" font-weight="bold" font-size="17" fill="#171515" textLength="128" lengthAdjust="spacing">OF  END  PINS</text><line x1="1223" y1="572.5" x2="1426" y2="572.5" stroke="#171515" stroke-width="2.6"/><polygon points="1224,572.5 1240,568.5 1240,576.5" fill="#171515"/><polygon points="1426,572.5 1410,568.5 1410,576.5" fill="#171515"/><text x="1440" y="580" font-family="Liberation Sans" font-size="16" fill="#171515">1.</text><rect x="556" y="103" width="893" height="605" fill="none" stroke="#111" stroke-width="2.5"/><rect x="559.5" y="869" width="894" height="336" fill="none" stroke="#151515" stroke-width="2.2"/><polyline points="767,915.5 826,915.5 826,890 1334,890" fill="none" stroke="#151515" stroke-width="3"/><polyline points="767,965 855,965 855,940 1282,940 1282,964 1334,964" fill="none" stroke="#151515" stroke-width="3"/><polyline points="828,1015 857,1015 857,990" fill="none" stroke="#151515" stroke-width="3"/><polyline points="870,990 870,1015" fill="none" stroke="#151515" stroke-width="3"/><polyline points="885,990 885,1015 1334,1015" fill="none" stroke="#151515" stroke-width="3"/><polyline points="828,1055 1334,1055" fill="none" stroke="#151515" stroke-width="3"/><polyline points="829,1079.5 1334,1079.5" fill="none" stroke="#151515" stroke-width="3"/><polyline points="770,1131 857,1131 857,1105 946,1105 946,1130 1335,1130" fill="none" stroke="#151515" stroke-width="3"/><polyline points="770,1181 1111,1181 1111,1156 1285,1156 1285,1180 1336,1180" fill="none" stroke="#151515" stroke-width="3"/><polyline points="833,1145 850,1145" fill="none" stroke="#151515" stroke-width="2.2"/><polygon points="857,1145 847,1141 847,1149" fill="#151515"/><polyline points="857,1138 857,1152" fill="none" stroke="#151515" stroke-width="2"/><polyline points="955,1145 970,1145" fill="none" stroke="#151515" stroke-width="2.2"/><polygon points="947,1145 957,1141 957,1149" fill="#151515"/><polyline points="946,1138 946,1152" fill="none" stroke="#151515" stroke-width="2"/><text x="724" y="902" font-family="Liberation Sans" font-weight="bold" font-size="13" fill="#151515">V<tspan font-size="13" dy="4">CC+</tspan></text><text x="760" y="959" text-anchor="end" font-family="Liberation Sans" font-weight="bold" font-size="13.5" fill="#151515">INIT</text><text x="760" y="997" text-anchor="end" font-family="Liberation Sans" font-weight="bold" font-size="13.5" fill="#151515">TRANSMIT</text><text x="760" y="1012" text-anchor="end" font-family="Liberation Sans" font-weight="bold" font-size="13.5" fill="#151515">(INTERNAL)</text><text x="760" y="1059" text-anchor="end" font-family="Liberation Sans" font-weight="bold" font-size="13.5" fill="#151515">BLNK</text><text x="760" y="1083" text-anchor="end" font-family="Liberation Sans" font-weight="bold" font-size="13.5" fill="#151515">BINH</text><text x="760" y="1115" text-anchor="end" font-family="Liberation Sans" font-weight="bold" font-size="13.5" fill="#151515">INTERNAL</text><text x="760" y="1130" text-anchor="end" font-family="Liberation Sans" font-weight="bold" font-size="13.5" fill="#151515">BLANKING</text><text x="762" y="1172" text-anchor="end" font-family="Liberation Sans" font-weight="bold" font-size="13.5" fill="#151515">ECHO</text><text x="896" y="1005" text-anchor="start" font-family="Liberation Sans" font-weight="bold" font-size="10.5" fill="#151515">16 CYCLES</text><text x="894" y="1049" text-anchor="start" font-family="Liberation Sans" font-weight="bold" font-size="10.5" fill="#151515">LOW</text><text x="895" y="1074" text-anchor="start" font-family="Liberation Sans" font-weight="bold" font-size="10.5" fill="#151515">LOW</text><text x="878" y="1150" text-anchor="start" font-family="Liberation Sans" font-weight="bold" font-size="12" fill="#151515">2.38ms</text><rect x="561" y="1302" width="894" height="633.5" fill="none" stroke="#151515" stroke-width="2.2"/><line x1="1005.3" y1="1312" x2="1005.3" y2="1925" stroke="#151515" stroke-width="2.8" stroke-dasharray="15.5,11.5" stroke-linecap="round"/><rect x="661" y="1367" width="275" height="147" fill="none" stroke="#151515" stroke-width="3.5"/><text x="728" y="1407" text-anchor="start" font-family="Liberation Sans" font-weight="bold" font-size="12.5" fill="#151515" textLength="138" lengthAdjust="spacingAndGlyphs">Z8 BASIC SYSTEM</text><text x="728" y="1423" text-anchor="start" font-family="Liberation Sans" font-weight="bold" font-size="12.5" fill="#151515" textLength="95" lengthAdjust="spacingAndGlyphs">CONTROLLER</text><text x="728" y="1440" text-anchor="start" font-family="Liberation Sans" font-weight="bold" font-size="12.5" fill="#151515" textLength="47" lengthAdjust="spacingAndGlyphs">BCC11</text><text x="797" y="1478" text-anchor="start" font-family="Liberation Sans" font-weight="bold" font-size="12.5" fill="#151515" textLength="54" lengthAdjust="spacingAndGlyphs">PORT 2</text><path d="M752,1498 Q752,1488 770,1488 L818,1488 Q827,1488 829,1482 Q831,1488 840,1488 L888,1488 Q905,1488 905,1498" fill="none" stroke="#151515" stroke-width="2.4"/><text x="711" y="1508" text-anchor="start" font-family="Liberation Sans" font-weight="bold" font-size="12.5" fill="#151515" textLength="29" lengthAdjust="spacingAndGlyphs">+5V</text><text x="758" y="1508" text-anchor="start" font-family="Liberation Sans" font-weight="bold" font-size="12.5" fill="#151515" textLength="19" lengthAdjust="spacingAndGlyphs">B0</text><text x="801" y="1508" text-anchor="start" font-family="Liberation Sans" font-weight="bold" font-size="12.5" fill="#151515" textLength="18" lengthAdjust="spacingAndGlyphs">B1</text><text x="836" y="1508" text-anchor="start" font-family="Liberation Sans" font-weight="bold" font-size="12.5" fill="#151515" textLength="32" lengthAdjust="spacingAndGlyphs">GND</text><text x="882" y="1508" text-anchor="start" font-family="Liberation Sans" font-weight="bold" font-size="12.5" fill="#151515" textLength="19" lengthAdjust="spacingAndGlyphs">B2</text><polyline points="727.5,1514 727.5,1675" fill="none" stroke="#151515" stroke-width="2.4"/><polyline points="769.6,1500 769.6,1675" fill="none" stroke="#151515" stroke-width="2.4"/><polyline points="812.6,1514 812.6,1675" fill="none" stroke="#151515" stroke-width="2.4"/><polyline points="853,1514 853,1675" fill="none" stroke="#151515" stroke-width="2.4"/><polyline points="893,1514 893,1559 935,1559" fill="none" stroke="#151515" stroke-width="2.4"/><polygon points="941,1559 929,1554 929,1564" fill="#151515"/><text x="733" y="1531" text-anchor="start" font-family="Liberation Sans" font-weight="bold" font-size="12.5" fill="#151515">1</text><text x="772" y="1531" text-anchor="start" font-family="Liberation Sans" font-weight="bold" font-size="12.5" fill="#151515">12</text><text x="816" y="1531" text-anchor="start" font-family="Liberation Sans" font-weight="bold" font-size="12.5" fill="#151515">13</text><text x="856" y="1531" text-anchor="start" font-family="Liberation Sans" font-weight="bold" font-size="12.5" fill="#151515">2</text><text x="896" y="1531" text-anchor="start" font-family="Liberation Sans" font-weight="bold" font-size="12.5" fill="#151515">14</text><text x="943" y="1558" text-anchor="start" font-family="Liberation Sans" font-weight="bold" font-size="12.5" fill="#151515" textLength="50" lengthAdjust="spacingAndGlyphs">ALARM</text><text x="943" y="1573" text-anchor="start" font-family="Liberation Sans" font-weight="bold" font-size="12.5" fill="#151515" textLength="30" lengthAdjust="spacingAndGlyphs">OUT</text><text x="672" y="1582" text-anchor="start" font-family="Liberation Sans" font-weight="bold" font-size="12.5" fill="#151515" textLength="28" lengthAdjust="spacingAndGlyphs">+5V</text><polyline points="689,1597 689,1615 727.5,1615" fill="none" stroke="#151515" stroke-width="2.4"/><polygon points="689,1590 684,1599 694,1599" fill="#fff" stroke="#151515" stroke-width="2"/><circle cx="727.5" cy="1615" r="4.5" fill="#151515"/><polyline points="853,1615 893,1615 893,1635" fill="none" stroke="#151515" stroke-width="2.4"/><circle cx="853" cy="1615" r="4.5" fill="#151515"/><polyline points="883,1637 899,1637" fill="none" stroke="#151515" stroke-width="3"/><polyline points="880,1645 886,1637" fill="none" stroke="#151515" stroke-width="2.2"/><polyline points="886,1645 892,1637" fill="none" stroke="#151515" stroke-width="2.2"/><text x="905" y="1642" text-anchor="start" font-family="Liberation Sans" font-weight="bold" font-size="12" fill="#151515" textLength="27" lengthAdjust="spacingAndGlyphs">GND</text><text x="733" y="1671" text-anchor="start" font-family="Liberation Sans" font-weight="bold" font-size="12.5" fill="#151515">1</text><text x="775" y="1671" text-anchor="start" font-family="Liberation Sans" font-weight="bold" font-size="12.5" fill="#151515">2</text><text x="816" y="1671" text-anchor="start" font-family="Liberation Sans" font-weight="bold" font-size="12.5" fill="#151515">5</text><text x="857" y="1671" text-anchor="start" font-family="Liberation Sans" font-weight="bold" font-size="12.5" fill="#151515">8</text><rect x="686.5" y="1675.5" width="228" height="107" fill="none" stroke="#151515" stroke-width="3.5"/><text x="716" y="1694" text-anchor="start" font-family="Liberation Sans" font-weight="bold" font-size="12.5" fill="#151515" textLength="19" lengthAdjust="spacingAndGlyphs">+V</text><text x="751" y="1694" text-anchor="start" font-family="Liberation Sans" font-weight="bold" font-size="12.5" fill="#151515" textLength="37" lengthAdjust="spacingAndGlyphs">ECHO</text><text x="801" y="1694" text-anchor="start" font-family="Liberation Sans" font-weight="bold" font-size="12.5" fill="#151515" textLength="25" lengthAdjust="spacingAndGlyphs">INIT</text><text x="841" y="1694" text-anchor="start" font-family="Liberation Sans" font-weight="bold" font-size="12.5" fill="#151515" textLength="28" lengthAdjust="spacingAndGlyphs">GND</text><text x="732" y="1741" text-anchor="start" font-family="Liberation Sans" font-weight="bold" font-size="12.5" fill="#151515" textLength="65" lengthAdjust="spacingAndGlyphs">RANGING</text><text x="807" y="1741" text-anchor="start" font-family="Liberation Sans" font-weight="bold" font-size="12.5" fill="#151515" textLength="59" lengthAdjust="spacingAndGlyphs">MODULE</text><polyline points="720,1783 720,1890 782,1890" fill="none" stroke="#151515" stroke-width="2.4"/><polyline points="822,1890 885.5,1890 885.5,1783" fill="none" stroke="#151515" stroke-width="2.4"/><circle cx="802" cy="1890" r="20.5" fill="none" stroke="#151515" stroke-width="2.6"/><text x="723" y="1799" text-anchor="start" font-family="Liberation Sans" font-weight="bold" font-size="12.5" fill="#151515" textLength="16" lengthAdjust="spacingAndGlyphs">J3</text><text x="889" y="1799" text-anchor="start" font-family="Liberation Sans" font-weight="bold" font-size="12.5" fill="#151515" textLength="16" lengthAdjust="spacingAndGlyphs">J2</text><text x="752" y="1860" text-anchor="start" font-family="Liberation Sans" font-weight="bold" font-size="12.5" fill="#151515" textLength="97" lengthAdjust="spacingAndGlyphs">TRANSDUCER</text><text x="767" y="1904" text-anchor="start" font-family="Liberation Sans" font-weight="bold" font-size="14" fill="#151515">-</text><text x="830" y="1906" text-anchor="start" font-family="Liberation Sans" font-weight="bold" font-size="14" fill="#151515">+</text><text x="661" y="1923" font-family="Liberation Sans" font-style="italic" font-weight="bold" font-size="17" fill="#151515" textLength="46" lengthAdjust="spacingAndGlyphs">(6a)</text><rect x="1080" y="1366.5" width="275" height="147" fill="none" stroke="#151515" stroke-width="3.5"/><text x="1171" y="1406" text-anchor="start" font-family="Liberation Sans" font-weight="bold" font-size="12.5" fill="#151515" textLength="70" lengthAdjust="spacingAndGlyphs">APPLE II</text><text x="1171" y="1422" text-anchor="start" font-family="Liberation Sans" font-weight="bold" font-size="12.5" fill="#151515" textLength="88" lengthAdjust="spacingAndGlyphs">GAME  PORT</text><text x="1106" y="1507" text-anchor="start" font-family="Liberation Sans" font-weight="bold" font-size="12.5" fill="#151515" textLength="27" lengthAdjust="spacingAndGlyphs">AN2</text><text x="1160" y="1507" text-anchor="start" font-family="Liberation Sans" font-weight="bold" font-size="12.5" fill="#151515" textLength="28" lengthAdjust="spacingAndGlyphs">SW1</text><text x="1211" y="1507" text-anchor="start" font-family="Liberation Sans" font-weight="bold" font-size="12.5" fill="#151515" textLength="27" lengthAdjust="spacingAndGlyphs">AN1</text><text x="1262" y="1507" text-anchor="start" font-family="Liberation Sans" font-weight="bold" font-size="12.5" fill="#151515" textLength="30" lengthAdjust="spacingAndGlyphs">GND</text><polyline points="1123,1514 1123,1559.5 1086,1559.5" fill="none" stroke="#151515" stroke-width="2.4"/><polygon points="1079,1559.5 1091,1554.5 1091,1564.5" fill="#151515"/><text x="1021" y="1557" text-anchor="start" font-family="Liberation Sans" font-weight="bold" font-size="12.5" fill="#151515" textLength="50" lengthAdjust="spacingAndGlyphs">ALARM</text><text x="1041" y="1572" text-anchor="start" font-family="Liberation Sans" font-weight="bold" font-size="12.5" fill="#151515" textLength="29" lengthAdjust="spacingAndGlyphs">OUT</text><polyline points="1176,1500 1176,1675" fill="none" stroke="#151515" stroke-width="2.4"/><polyline points="1227.7,1500 1227.7,1675" fill="none" stroke="#151515" stroke-width="2.4"/><polyline points="1278,1500 1278,1675" fill="none" stroke="#151515" stroke-width="2.4"/><text x="1106" y="1634" text-anchor="start" font-family="Liberation Sans" font-weight="bold" font-size="12.5" fill="#151515" textLength="28" lengthAdjust="spacingAndGlyphs">+5V</text><polyline points="1124,1650 1124,1675" fill="none" stroke="#151515" stroke-width="2.4"/><polygon points="1124,1643 1119,1652 1129,1652" fill="#fff" stroke="#151515" stroke-width="2"/><text x="1129" y="1670" text-anchor="start" font-family="Liberation Sans" font-weight="bold" font-size="12.5" fill="#151515">1</text><text x="1181" y="1670" text-anchor="start" font-family="Liberation Sans" font-weight="bold" font-size="12.5" fill="#151515">2</text><text x="1235" y="1670" text-anchor="start" font-family="Liberation Sans" font-weight="bold" font-size="12.5" fill="#151515">5</text><text x="1285" y="1670" text-anchor="start" font-family="Liberation Sans" font-weight="bold" font-size="12.5" fill="#151515">8</text><rect x="1082" y="1676" width="235" height="105" fill="none" stroke="#151515" stroke-width="3.5"/><text x="1112" y="1693" text-anchor="start" font-family="Liberation Sans" font-weight="bold" font-size="12.5" fill="#151515" textLength="19" lengthAdjust="spacingAndGlyphs">+V</text><text x="1156" y="1693" text-anchor="start" font-family="Liberation Sans" font-weight="bold" font-size="12.5" fill="#151515" textLength="37" lengthAdjust="spacingAndGlyphs">ECHO</text><text x="1211" y="1693" text-anchor="start" font-family="Liberation Sans" font-weight="bold" font-size="12.5" fill="#151515" textLength="29" lengthAdjust="spacingAndGlyphs">INIT</text><text x="1268" y="1693" text-anchor="start" font-family="Liberation Sans" font-weight="bold" font-size="12.5" fill="#151515" textLength="28" lengthAdjust="spacingAndGlyphs">GND</text><text x="1133" y="1741" text-anchor="start" font-family="Liberation Sans" font-weight="bold" font-size="12.5" fill="#151515" textLength="62" lengthAdjust="spacingAndGlyphs">RANGING</text><text x="1210" y="1741" text-anchor="start" font-family="Liberation Sans" font-weight="bold" font-size="12.5" fill="#151515" textLength="61" lengthAdjust="spacingAndGlyphs">MODULE</text><polyline points="1112.5,1782 1112.5,1888 1176,1888" fill="none" stroke="#151515" stroke-width="2.4"/><polyline points="1218,1888 1284,1888 1284,1782" fill="none" stroke="#151515" stroke-width="2.4"/><circle cx="1197" cy="1888" r="21" fill="none" stroke="#151515" stroke-width="2.6"/><text x="1116" y="1798" text-anchor="start" font-family="Liberation Sans" font-weight="bold" font-size="12.5" fill="#151515" textLength="16" lengthAdjust="spacingAndGlyphs">J3</text><text x="1289" y="1798" text-anchor="start" font-family="Liberation Sans" font-weight="bold" font-size="12.5" fill="#151515" textLength="16" lengthAdjust="spacingAndGlyphs">J2</text><text x="1147" y="1858" text-anchor="start" font-family="Liberation Sans" font-weight="bold" font-size="12.5" fill="#151515" textLength="99" lengthAdjust="spacingAndGlyphs">TRANSDUCER</text><text x="1165" y="1902" text-anchor="start" font-family="Liberation Sans" font-weight="bold" font-size="14" fill="#151515">-</text><text x="1226" y="1904" text-anchor="start" font-family="Liberation Sans" font-weight="bold" font-size="14" fill="#151515">+</text><text x="1026" y="1923" font-family="Liberation Sans" font-style="italic" font-weight="bold" font-size="17" fill="#151515" textLength="46" lengthAdjust="spacingAndGlyphs">(6b)</text><line x1="559" y1="833" x2="1450" y2="833" stroke="#141414" stroke-width="2.5"/><line x1="561" y1="1264" x2="1453" y2="1264" stroke="#141414" stroke-width="2.5"/><line x1="563" y1="2026" x2="1457" y2="2026" stroke="#141414" stroke-width="2.5"/></svg>
<div class="t" style="left:91.5px;top:119.0px;font-size:26px;word-spacing:1.48px">probably found, as I have, that fixed-</div>
<div class="t" style="left:91.5px;top:149.7px;font-size:26px;word-spacing:0.78px">distance reception is far easier to ac-</div>
<div class="t" style="left:91.5px;top:180.4px;font-size:26px;letter-spacing:0.957px;word-spacing:18.36px">complish than variable-distance</div>
<div class="t" style="left:91.5px;top:211.1px;font-size:26px;word-spacing:1.11px">reception. Sound intensity decreases</div>
<div class="t" style="left:94.8px;top:241.8px;font-size:26px;letter-spacing:0.808px;word-spacing:12.62px">geometrically proportional to in-</div>
<div class="t" style="left:94.9px;top:272.5px;font-size:26px;word-spacing:2.91px">creases in distance. If you have de-</div>
<div class="t" style="left:94.9px;top:303.2px;font-size:26px;transform:scaleX(0.9772)">signed a transmitter-and-receiver sys-</div>
<div class="t" style="left:95.0px;top:333.9px;font-size:26px;word-spacing:2.55px">tem that works well at 6 feet, it may</div>
<div class="t" style="left:95.1px;top:364.6px;font-size:26px;letter-spacing:0.071px;word-spacing:4.41px">not function at 12 feet without sub-</div>
<div class="t" style="left:95.1px;top:395.3px;font-size:26px;transform:scaleX(0.9969)">stantially increasing the receiver sen-</div>
<div class="t" style="left:95.2px;top:426.0px;font-size:26px;letter-spacing:0.146px;word-spacing:4.90px">sitivity (gain) to account for the re-</div>
<div class="t" style="left:95.3px;top:456.7px;font-size:26px;letter-spacing:0.112px;word-spacing:4.89px">duced echo amplitude. Leaving the</div>
<div class="t" style="left:95.3px;top:487.4px;font-size:26px;word-spacing:2.42px">sensitivity at a high level and reduc-</div>
<div class="t" style="left:95.4px;top:518.1px;font-size:26px;transform:scaleX(0.9769)">ing the distance again invites other in-</div>
<div class="t" style="left:95.5px;top:548.8px;font-size:26px;letter-spacing:0.138px;word-spacing:6.35px">terference and false-echo-detection</div>
<div class="t" style="left:95.5px;top:579.5px;font-size:26px;transform:scaleX(0.9878)">problems. To adequately compensate</div>
<div class="t" style="left:95.6px;top:610.2px;font-size:26px;word-spacing:1.82px">for changing distances, the sensitivi-</div>
<div class="t" style="left:95.7px;top:640.9px;font-size:26px;transform:scaleX(0.9738)">ty setting must also be adjustable with</div>
<div class="t" style="left:95.7px;top:671.6px;font-size:26px;transform:scaleX(0.9608)">distance.</div>
<div class="t" style="left:117.8px;top:702.3px;font-size:26px;word-spacing:2.59px">The TI ranging module dynamical-</div>
<div class="t" style="left:95.9px;top:733.0px;font-size:26px;word-spacing:2.82px">ly tailors the receive amplifier’s sen-</div>
<div class="t" style="left:95.9px;top:763.7px;font-size:26px;word-spacing:0.14px">sitivity. Lower amplification is needed</div>
<div class="t" style="left:96.0px;top:794.4px;font-size:26px;word-spacing:0.02px">for close objects, higher amplification</div>
<div class="t" style="left:96.1px;top:825.1px;font-size:26px;word-spacing:0.10px">for distant echoes. Twelve gain steps</div>
<div class="t" style="left:96.2px;top:855.8px;font-size:26px;word-spacing:3.97px">within the range of 0 to 35 feet are</div>
<div class="t" style="left:96.2px;top:886.5px;font-size:26px;transform:scaleX(0.9770)">automatically incremented as the time</div>
<div class="t" style="left:96.3px;top:917.2px;font-size:26px;transform:scaleX(0.9780)">between INIT and ECHO lengthens. If</div>
<div class="t" style="left:96.4px;top:947.9px;font-size:26px;transform:scaleX(0.9868)">the distance is 6 feet, the receiver will</div>
<div class="t" style="left:96.4px;top:978.6px;font-size:26px;letter-spacing:0.033px;word-spacing:4.17px">be at its second gain setting. At 20</div>
<div class="t" style="left:96.5px;top:1009.3px;font-size:26px;letter-spacing:0.119px;word-spacing:4.56px">feet it will be at its sixth level. The</div>
<div class="t" style="left:96.6px;top:1040.0px;font-size:26px;word-spacing:3.57px">twelfth level is sufficient for unaided</div>
<div class="t" style="left:96.6px;top:1070.7px;font-size:26px;transform:scaleX(0.9877)">reception of echoes from 35 feet. The</div>
<div class="t" style="left:96.7px;top:1101.4px;font-size:26px;letter-spacing:0.284px;word-spacing:5.61px">addition of a direction cone to the</div>
<div class="t" style="left:96.8px;top:1132.1px;font-size:26px;transform:scaleX(0.9968)">transducer, which will further improve</div>
<div class="t" style="left:96.8px;top:1162.8px;font-size:26px;letter-spacing:0.295px;word-spacing:7.64px">sensitivity, will facilitate measuring</div>
<div class="t" style="left:96.9px;top:1193.5px;font-size:26px;word-spacing:2.89px">distances beyond 35 feet.</div>
<div class="t" style="left:97.1px;top:1285.4px;font-size:26px;transform:scaleX(0.9834)">Figure 6 is the schematic for connect-</div>
<div class="t" style="left:97.2px;top:1315.9px;font-size:26px;transform:scaleX(0.9965)">ing the ranging module to the parallel</div>
<div class="t" style="left:97.2px;top:1346.5px;font-size:26px;word-spacing:0.32px">port of a computer. The entire single-</div>
<div class="t" style="left:97.3px;top:1377.0px;font-size:26px;word-spacing:2.89px">echo-mode interface requires only 1</div>
<div class="t" style="left:97.4px;top:1407.6px;font-size:26px;letter-spacing:0.143px;word-spacing:4.71px">input bit and 1 output bit. The out-</div>
<div class="t" style="left:97.4px;top:1438.1px;font-size:26px;word-spacing:2.54px">put bit connects to the INIT line; the</div>
<div class="t" style="left:97.5px;top:1468.7px;font-size:26px;word-spacing:2.41px">input bit connects to the ECHO line.</div>
<div class="t" style="left:97.6px;top:1499.2px;font-size:26px;letter-spacing:0.066px;word-spacing:4.53px">To measure distance, the computer</div>
<div class="t" style="left:97.6px;top:1529.8px;font-size:26px;letter-spacing:0.903px;word-spacing:9.42px">merely raises the INIT line and</div>
<div class="t" style="left:97.7px;top:1560.3px;font-size:26px;word-spacing:2.32px">measures the time until ECHO goes</div>
<div class="t" style="left:97.8px;top:1590.9px;font-size:26px;word-spacing:1.81px">high. The repetition rate depends on</div>
<div class="t" style="left:97.8px;top:1621.4px;font-size:26px;letter-spacing:0.074px;word-spacing:4.50px">the distance. The cycle is repeated</div>
<div class="t" style="left:97.9px;top:1652.0px;font-size:26px;letter-spacing:0.590px;word-spacing:7.54px">when INIT is lowered and raised</div>
<div class="t" style="left:98.0px;top:1682.5px;font-size:26px;letter-spacing:0.212px;word-spacing:5.17px">again. This can occur at any point</div>
<div class="t" style="left:98.0px;top:1713.1px;font-size:26px;letter-spacing:0.114px;word-spacing:4.75px">after ECHO. For short distances, a</div>
<div class="t" style="left:98.1px;top:1743.6px;font-size:26px;word-spacing:1.25px">100-Hz repetition rate is possible. To</div>
<div class="t" style="left:98.2px;top:1774.2px;font-size:26px;transform:scaleX(0.9576)">allow a full 35-foot range, however, the</div>
<div class="t" style="left:98.2px;top:1804.7px;font-size:26px;transform:scaleX(0.9998)">repetition rate should be limited to 10</div>
<div class="t" style="left:98.3px;top:1835.3px;font-size:26px;transform:scaleX(0.9231)">Hz.</div>
<div class="t" style="left:120.4px;top:1865.8px;font-size:26px;word-spacing:2.68px">Unlike the Polaroid Designer’s Kit,</div>
<div class="t" style="left:98.4px;top:1896.4px;font-size:26px;word-spacing:2.46px">which is specified to run on 6 V, the</div>
<div class="t" style="left:98.5px;top:1926.9px;font-size:26px;letter-spacing:0.068px;word-spacing:4.45px">TI ranging module can function be-</div>
<div class="t" style="left:98.6px;top:1957.5px;font-size:26px;word-spacing:0.09px">tween 4.5 and 6.8 V. If you use a 5-V</div>
<div class="t" style="left:98.6px;top:1988.0px;font-size:26px;transform:scaleX(0.9887)">supply, the ranging module I/O is TTL</div>
<div class="t" style="left:559.0px;top:741.3px;font-size:26px;transform:scaleX(0.9413)"><b style="font-weight:bold">Photo 6:</b> <i>With the addition of the 4-digit</i> LCD, <i>such as the</i> UXD <i>unit shown, and a</i></div>
<div class="t" style="left:559.0px;top:771.6px;font-size:26px;transform:scaleX(0.8799)">4½-<i>digit</i> 7224 LCD <i>counter/decoder/driver chip from</i> Intersil, <i>a hand-held tape measure</i></div>
<div class="t" style="left:559.0px;top:801.8px;font-size:26px;transform:scaleX(0.8249)"><i>can be easily constructed.</i></div>
<div class="t" style="left:561.0px;top:1233.7px;font-size:26px;transform:scaleX(0.9201)">Figure 5: A <i>timing diagram of the sonar-ranging module.</i></div>
<div class="t" style="left:563.0px;top:1968.0px;font-size:26px;transform:scaleX(0.8962)">Figure 6: <i>The sonar-ranging module’s connection to the</i> Z8 BASIC <i>system</i></div>
<div class="t" style="left:563.0px;top:1997.0px;font-size:26px;transform:scaleX(0.8976)"><i>controller</i> (6<i>a</i>) <i>and to the</i> Apple II <i>system controller</i> (6<i>b</i>).</div>
<div class="t" style="left:1182.0px;top:2077.1px;font-size:17px;word-spacing:2.70px">OCTOBER 1984</div>
<div class="t" style="left:1323.0px;top:2076.8px;font-size:18px">•</div>
<div class="t" style="left:1342.0px;top:2077.1px;font-size:17px;word-spacing:0.72px">B Y T E</div>
<div class="t" style="left:1433.0px;top:2076.9px;font-size:19px;transform:scaleX(0.7992)"><b>117</b></div>
<div class="t" style="left:447.0px;top:2019.0px;font-size:19px;transform:scaleX(0.8731)"><i>(continued)</i></div>
<div class="t" style="left:98.0px;top:1252.7px;font-size:24px;letter-spacing:0.376px;word-spacing:10.77px"><span style="font-size:31px;-webkit-text-stroke:0.7px #161616">C</span><span style="-webkit-text-stroke:0.6px #161616">OMPUTER </span><span style="font-size:31px;-webkit-text-stroke:0.7px #161616">C</span><span style="-webkit-text-stroke:0.6px #161616">ONNECTION</span></div>
</body></html>
